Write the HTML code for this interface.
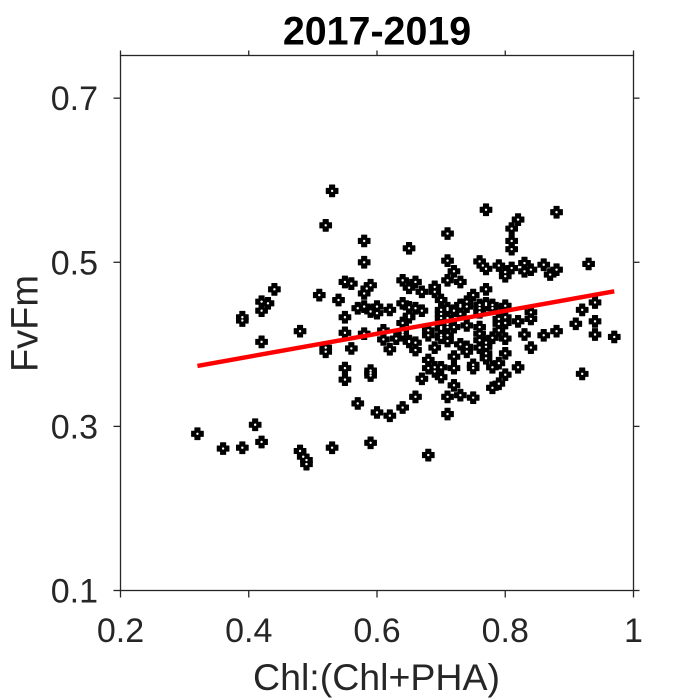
<!DOCTYPE html>
<html>
<head>
<meta charset="utf-8">
<style>
html,body{margin:0;padding:0;background:#fff;width:700px;height:700px;overflow:hidden}
svg{display:block;font-family:"Liberation Sans",Arial,sans-serif}
</style>
</head>
<body>
<svg id="chart" width="700" height="700" viewBox="0 0 700 700"></svg>
<script>
const xTicks = [0.2, 0.4, 0.6, 0.8, 1];
const xTickLabels = ['0.2', '0.4', '0.6', '0.8', '1'];
const yTicks = [0.1, 0.3, 0.5, 0.7];
const yTickLabels = ['0.1', '0.3', '0.5', '0.7'];
const xDomain = [0.2, 1];
const yDomain = [0.1, 0.752];
const chlRatio = [
.32,.36,.39,.41,.42,.48,.485,.49,.49,.53,.59,.57,.60,.62,.64,.39,.39,.42,.43,.42,.44,.42,.48,.52,.52,.55,.55,.59,.59,.59,
.56,.55,.58,.55,.51,.54,.57,.58,.59,.60,.60,.62,.61,.61,.62,.63,.64,.64,.65,.64,.65,.55,.56,.58,.584,.59,.53,.52,.58,.58,
.64,.65,.66,.67,.65,.71,.71,.77,.88,.82,.81,.81,.81,.76,.77,.765,.79,.81,.80,.80,.83,.83,.84,.86,.88,.87,.93,.72,.71,.73,
.77,.75,.74,.73,.73,.71,.70,.72,.77,.76,.78,.80,.79,.76,.67,.66,.65,.65,.84,.84,.82,.80,.80,.79,.79,.79,.74,.72,.70,.71,
.94,.92,.94,.91,.88,.86,.83,.94,.97,.68,.68,.65,.64,.66,.66,.69,.70,.71,.76,.76,.76,.80,.78,.77,.76,.73,.74,.74,.72,.77,
.77,.77,.80,.84,.68,.69,.70,.70,.72,.75,.75,.78,.79,.82,.80,.79,.78,.92,.67,.72,.66,.71,.73,.75,.71,.68,.68,.69,.73,.74,
.77,.76,.78,.70,.71,.70,.71,.70,.71,.70,.71,.69,.69,.70
];
const fvFm = [
.291,.273,.274,.302,.281,.270,.263,.259,.254,.274,.280,.328,.317,.313,.323,.433,.429,.452,.450,.441,.467,.403,.416,.396,.391,.371,.357,.368,.365,.362,
.395,.414,.413,.433,.460,.454,.444,.446,.440,.446,.438,.442,.406,.417,.394,.407,.415,.426,.404,.450,.433,.476,.474,.462,.468,.472,.587,.545,.526,.500,
.478,.469,.476,.464,.517,.535,.502,.564,.561,.552,.541,.526,.516,.501,.492,.496,.496,.493,.488,.483,.499,.489,.491,.497,.491,.485,.498,.489,.478,.476,
.467,.460,.452,.448,.446,.444,.437,.441,.450,.444,.444,.447,.441,.439,.441,.444,.445,.435,.439,.431,.428,.433,.426,.431,.425,.417,.423,.421,.419,.425,
.451,.442,.428,.425,.416,.411,.412,.412,.409,.417,.411,.403,.412,.402,.393,.396,.408,.404,.421,.413,.405,.407,.408,.402,.396,.400,.397,.391,.385,.397,
.389,.383,.389,.396,.381,.372,.372,.360,.371,.375,.371,.372,.377,.372,.363,.352,.347,.364,.358,.350,.336,.336,.338,.335,.315,.371,.265,.367,.437,.446,
.448,.448,.448,.442,.442,.432,.432,.421,.421,.411,.411,.470,.464,.454
];
const lineX = [0.32, 0.97];
const lineY = [0.3737, 0.4646];

const NS = 'http://www.w3.org/2000/svg';
const svg = document.getElementById('chart');
const plot = {left: 120.5, right: 633.5, top: 55.5, bottom: 590.5};
const sx = v => plot.left + (v - xDomain[0]) / (xDomain[1] - xDomain[0]) * (plot.right - plot.left);
const sy = v => plot.bottom - (v - yDomain[0]) / (yDomain[1] - yDomain[0]) * (plot.bottom - plot.top);
const axisColor = '#262626';

function make(tag, attrs, parent, text) {
  const el = document.createElementNS(NS, tag);
  for (const k in attrs) el.setAttribute(k, attrs[k]);
  if (text !== undefined) el.textContent = text;
  (parent || svg).appendChild(el);
  return el;
}

const marksGroup = make('g', {});


chlRatio.forEach((xv, i) => {
  const g = make('g', {transform: 'translate(' + sx(xv) + ' ' + sy(fvFm[i]) + ')'}, marksGroup);
  
  
  make('path', {d: 'M-2.6 -5.9H2.6V-2.6H5.9V2.6H2.6V5.9H-2.6V2.6H-5.9V-2.6H-2.6Z', fill: '#000', stroke: '#000', 'stroke-width': 0.9, 'stroke-linejoin': 'round'}, g);
});
chlRatio.forEach((xv, i) => {
  const dot = make('circle', {cx: sx(xv), cy: sy(fvFm[i]), r: 1.2, fill: '#fff'}, marksGroup);
  
  
});

const fit = make('line', {x1: sx(lineX[0]), y1: sy(lineY[0]), x2: sx(lineX[1]), y2: sy(lineY[1]), stroke: '#ff0000', 'stroke-width': 4.4});



const box = make('rect', {x: plot.left, y: plot.top, width: plot.right - plot.left, height: plot.bottom - plot.top, fill: 'none', stroke: axisColor, 'stroke-width': 1.3});



xTicks.forEach((v, i) => {
  const x = sx(v);
  const t1 = make('line', {x1: x, x2: x, y1: plot.bottom, y2: plot.bottom + 7, stroke: axisColor, 'stroke-width': 1.3});
  
  
  const t2 = make('line', {x1: x, x2: x, y1: plot.top, y2: plot.top - 5, stroke: axisColor, 'stroke-width': 1.3});
  
  
  const label = make('text', {x: x, y: 642, 'text-anchor': 'middle', 'font-size': 34, fill: axisColor}, svg, xTickLabels[i]);
  
  
});

yTicks.forEach((v, i) => {
  const y = sy(v);
  const t1 = make('line', {x1: plot.left - 7, x2: plot.left, y1: y, y2: y, stroke: axisColor, 'stroke-width': 1.3});
  
  
  const t2 = make('line', {x1: plot.right, x2: plot.right + 6, y1: y, y2: y, stroke: axisColor, 'stroke-width': 1.3});
  
  
  const label = make('text', {x: 98, y: y + 12, 'text-anchor': 'end', 'font-size': 34, fill: axisColor}, svg, yTickLabels[i]);
  
  
});

const title = make('text', {x: 377, y: 44.5, 'text-anchor': 'middle', 'font-size': 39.4, 'font-weight': 'bold', fill: '#000'}, svg, '2017-2019');


const xLabel = make('text', {x: 376.5, y: 690, 'text-anchor': 'middle', 'font-size': 37.5, fill: axisColor}, svg, 'Chl:(Chl+PHA)');


const yLabel = make('text', {x: 0, y: 0, transform: 'translate(37.5 323.5) rotate(-90)', 'text-anchor': 'middle', 'font-size': 38, fill: axisColor}, svg, 'FvFm');


</script>
</body>
</html>
